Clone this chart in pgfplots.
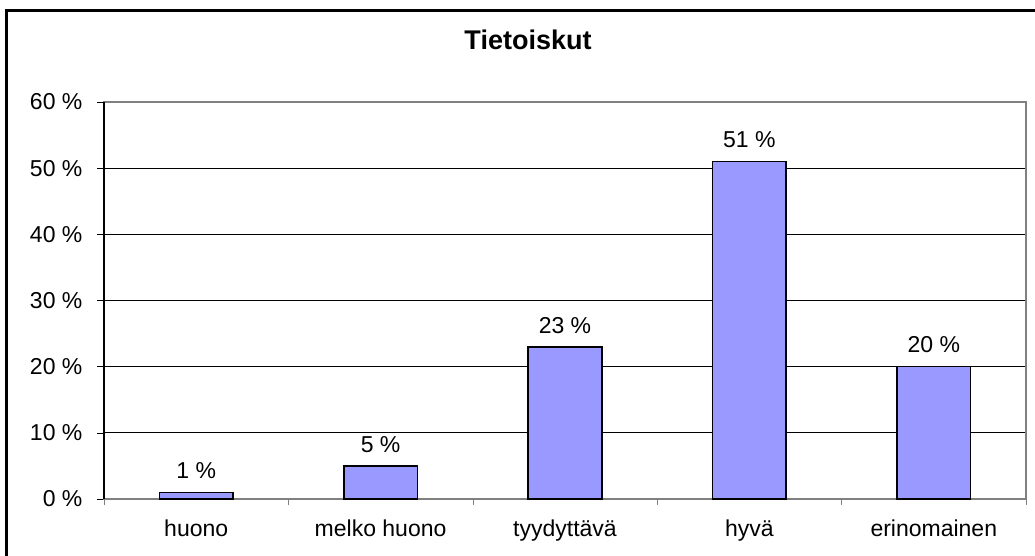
\documentclass[border=0pt]{standalone}
\usepackage{fontspec}
\setmainfont{Liberation Sans}
\usepackage{pgfplots}
\pgfplotsset{compat=1.18}
\definecolor{barblue}{HTML}{9999FF}
\definecolor{framegray}{HTML}{808080}
\begin{document}
\begin{tikzpicture}[x=1pt,y=1pt]
\useasboundingbox (0,0) rectangle (517.5,278);
\draw[line width=1.2pt] (3.25,-5) -- (3.25,272.75) -- (530,272.75);
\node[font=\bfseries\fontsize{13.5}{16}\selectfont] at (264,258) {Tietoiskut};
\begin{axis}[
  at={(52pt,28.5pt)}, anchor=south west,
  scale only axis, width=461pt, height=198.5pt,
  xmin=-0.5, xmax=4.5, ymin=0, ymax=60,
  ytick={0,10,...,60},
  xtick={0,...,4},
  xticklabels={huono, melko huono, tyydyttävä, hyvä, erinomainen},
  minor xtick={-0.5,0.5,...,4.5},
  tick align=outside,
  xtick pos=bottom, ytick pos=left,
  xtick style={/pgfplots/major tick length=0pt},
  ytick style={/pgfplots/major tick length=3.5pt, black},
  minor tick length=3pt,
  minor x tick style={framegray},
  ymajorgrids,
  major grid style={black, line width=0.45pt},
  axis line style={framegray, line width=0.6pt},
  tick label style={font=\fontsize{11.5}{13}\selectfont, black},
  /pgf/number format/assume math mode=true,
  yticklabel={\pgfmathprintnumber{\tick}~\%},
  yticklabel style={xshift=-3pt},
  xticklabel style={yshift=-2.5pt},
  ybar, bar width=0.4,
  nodes near coords={\pgfmathprintnumber{\pgfplotspointmeta}~\%},
  nodes near coords style={font=\fontsize{11.5}{13}\selectfont, black, yshift=3pt, /pgf/number format/assume math mode=true},
  clip=false,
]
\addplot[fill=barblue, draw=black, line width=0.8pt] coordinates {(0,1) (1,5) (2,23) (3,51) (4,20)};
\draw[black, line width=0.6pt] (rel axis cs:0,0) -- (rel axis cs:0,1);
\end{axis}
\end{tikzpicture}
\end{document}
